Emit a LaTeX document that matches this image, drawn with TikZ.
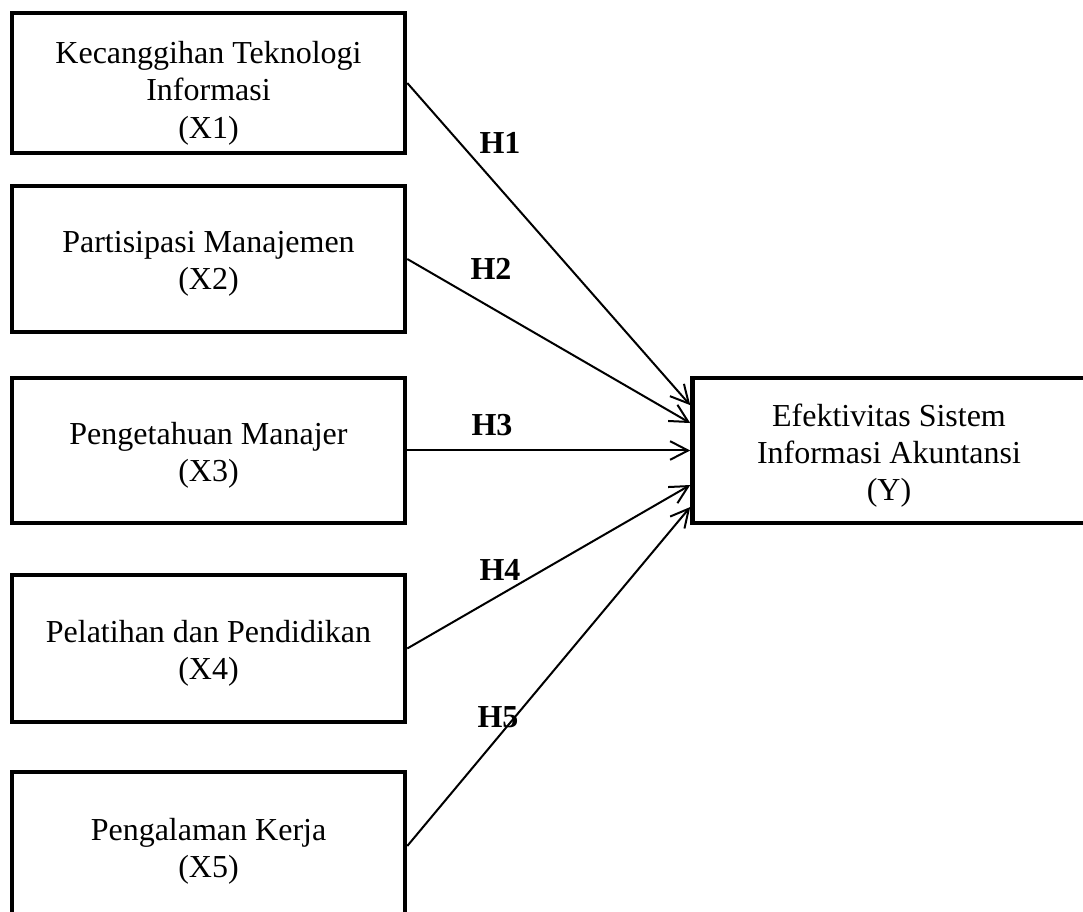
\documentclass[tikz,border=0pt]{standalone}
\usepackage{fontspec}
\setmainfont{Liberation Serif}
\usetikzlibrary{arrows.meta}
\begin{document}
\begin{tikzpicture}[x=0.75pt,y=-0.75pt,
  varbox/.style={draw=black,line width=3.4pt,rectangle,inner sep=0pt,
    minimum width=294.75pt},
  vtext/.style={align=center,inner sep=0pt,font=\fontsize{24}{28}\selectfont},
  hlabel/.style={font=\fontsize{24}{28}\selectfont\bfseries,inner sep=0pt},
  link/.style={line width=1.5pt,-{Straight Barb[length=13.5pt,width=14pt,line width=1.5pt]}}]
\useasboundingbox (0,0) rectangle (1083,912);
\node[varbox,minimum height=105pt] (b1) at (208.5,83) {};
\node[varbox,minimum height=109.5pt] (b2) at (208.5,259) {};
\node[varbox,minimum height=108.75pt] (b3) at (208.5,450.5) {};
\node[varbox,minimum height=110.25pt] (b4) at (208.5,648.5) {};
\node[varbox,minimum height=111pt] (b5) at (208.5,846) {};
\node[varbox,minimum height=108.75pt] (y) at (889,450.5) {};
\node[vtext] (b1t) at ([yshift=-7.5pt]b1.center) {Kecanggihan Teknologi\\Informasi\\(X1)};
\node[vtext] (b2t) at ([yshift=-3.75pt]b2.center) {Partisipasi Manajemen\\(X2)};
\node[vtext] (b3t) at ([yshift=-3.75pt]b3.center) {Pengetahuan Manajer\\(X3)};
\node[vtext] (b4t) at ([yshift=-3.75pt]b4.center) {Pelatihan dan Pendidikan\\(X4)};
\node[vtext] (b5t) at ([yshift=-3.75pt]b5.center) {Pengalaman Kerja\\(X5)};
\node[vtext] (yt) at ([yshift=-3.75pt]y.center) {Efektivitas Sistem\\Informasi Akuntansi\\(Y)};
\coordinate (t1) at ([yshift=34pt]y.west);
\coordinate (t2) at ([yshift=20.6pt]y.west);
\coordinate (t3) at (y.west);
\coordinate (t4) at ([yshift=-25.9pt]y.west);
\coordinate (t5) at ([yshift=-42.4pt]y.west);
\draw[link] (b1.east) -- (t1);
\draw[link] (b2.east) -- (t2);
\draw[link] (b3.east) -- (t3);
\draw[link] (b4.east) -- (t4);
\draw[link] (b5.east) -- (t5);
\node[hlabel] (h1) at (500,143) {H1};
\node[hlabel] (h2) at (491,269) {H2};
\node[hlabel] (h3) at (492,425) {H3};
\node[hlabel] (h4) at (500,570) {H4};
\node[hlabel] (h5) at (498,717) {H5};
\end{tikzpicture}
\end{document}
